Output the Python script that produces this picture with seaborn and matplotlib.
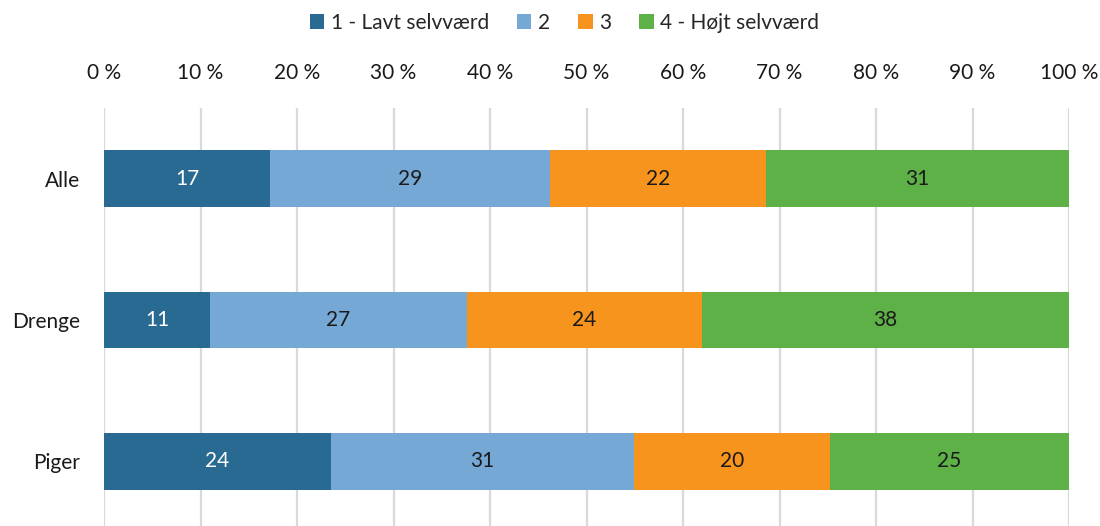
import matplotlib
matplotlib.use("Agg")
import matplotlib.pyplot as plt
import seaborn as sns
import pandas as pd
import numpy as np
from matplotlib.patches import Patch

groups = ["Alle", "Drenge", "Piger"]
series = ["1 - Lavt selvværd", "2", "3", "4 - Højt selvværd"]
v1 = [17.2, 11.0, 23.5]
v2 = [29.0, 26.6, 31.4]
v3 = [22.4, 24.4, 20.3]
v4 = [31.4, 38.0, 24.8]
labels1 = [17, 11, 24]
labels2 = [29, 27, 31]
labels3 = [22, 24, 20]
labels4 = [31, 38, 25]
xticks = [0, 10, 20, 30, 40, 50, 60, 70, 80, 90, 100]

colors = ["#286A92", "#76A8D6", "#F7941E", "#5DB147"]
text_colors = ["white", "#1a1a1a", "#1a1a1a", "#1a1a1a"]

sns.set_style("white")
plt.rcParams["font.family"] = ["Lato", "DejaVu Sans"]
FS = 15

vals = [v1, v2, v3, v4]
labs = [labels1, labels2, labels3, labels4]
cum = np.cumsum(np.array(vals), axis=0)

fig = plt.figure(figsize=(11, 5.26), dpi=100)
ax = fig.add_axes([104 / 1100, -6 / 526, 965 / 1100, 424 / 526])

for i in reversed(range(4)):
    df = pd.DataFrame({"group": groups, "value": cum[i]})
    sns.barplot(data=df, x="value", y="group", orient="h", color=colors[i],
                width=0.4, ax=ax, saturation=1, edgecolor="none", zorder=3)

for i in range(4):
    for j in range(3):
        center = cum[i][j] - vals[i][j] / 2
        ax.text(center, j, str(labs[i][j]), ha="center", va="center",
                color=text_colors[i], fontsize=FS, zorder=5)

ax.set_xlim(0, 100)
ax.set_ylim(2.5, -0.5)
ax.set_xticks(xticks)
ax.set_xticklabels([f"{t} %" for t in xticks], fontsize=FS, color="#1a1a1a")
ax.xaxis.tick_top()
ax.tick_params(axis="x", length=0, pad=18)
ax.tick_params(axis="y", length=0, pad=17, labelsize=FS, labelcolor="#1a1a1a")
ax.set_xlabel("")
ax.set_ylabel("")
ax.xaxis.grid(True, color="#D9D9D9", linewidth=1.6, zorder=0)
ax.set_axisbelow(True)
for s in ax.spines.values():
    s.set_visible(False)

handles = [Patch(facecolor=c, edgecolor="none") for c in colors]
fig.legend(handles, series, loc="center", bbox_to_anchor=(0.513, 1 - 23 / 526),
           ncol=4, frameon=False, fontsize=FS, handlelength=0.7,
           handleheight=0.7, handletextpad=0.3, columnspacing=1.35)

fig.savefig("out.png", dpi=100)
